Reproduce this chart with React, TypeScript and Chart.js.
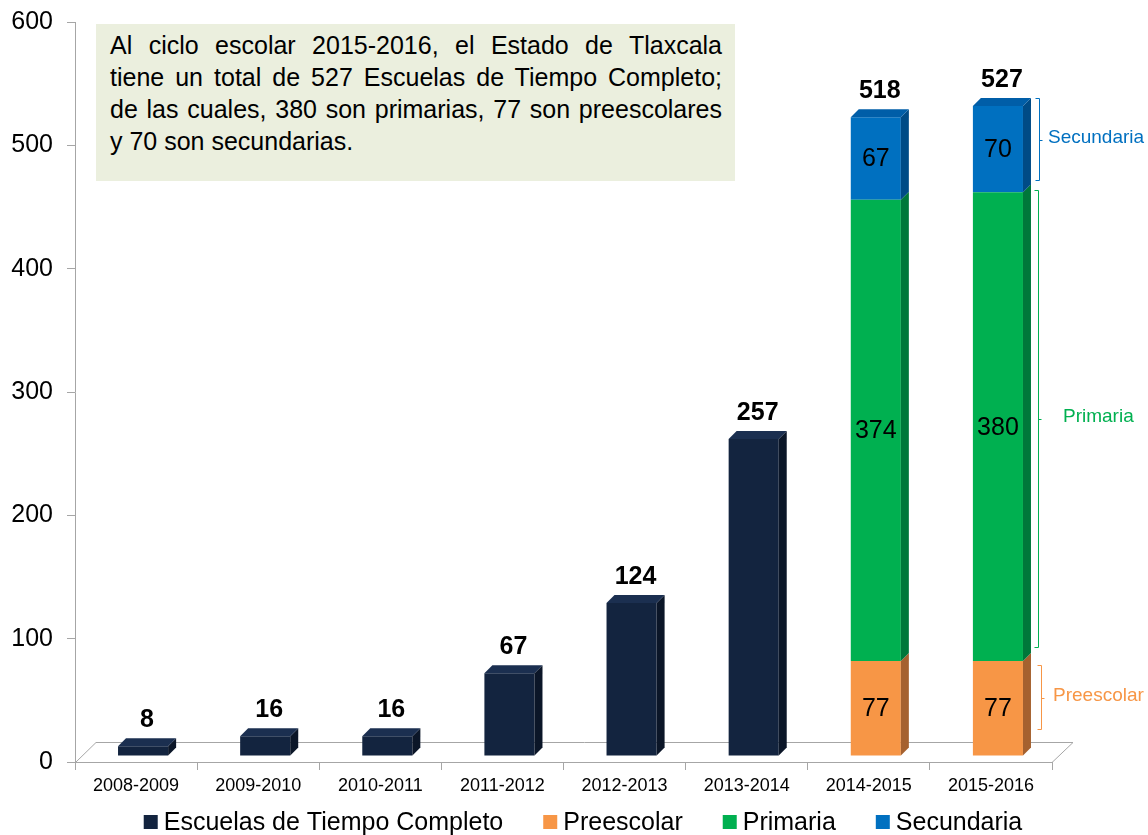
import React, { useEffect, useRef } from "react";
import { Chart, registerables } from "chart.js";

Chart.register(...registerables);

// ---------- data ----------
const categories = [
  "2008-2009", "2009-2010", "2010-2011", "2011-2012",
  "2012-2013", "2013-2014", "2014-2015", "2015-2016",
];
const escuelasTiempoCompleto = [8, 16, 16, 67, 124, 257, null, null];
const preescolar = [null, null, null, null, null, null, 77, 77];
const primaria = [null, null, null, null, null, null, 374, 380];
const secundaria = [null, null, null, null, null, null, 67, 70];
const seriesNames = ["Escuelas de Tiempo Completo", "Preescolar", "Primaria", "Secundaria"];
const yTickValues = [0, 100, 200, 300, 400, 500, 600];
// right-hand brackets (value ranges on the y axis)
const bracketNames = ["Preescolar", "Primaria", "Secundaria"];
const bracketSpans = [[27, 79], [93, 464], [472, 538]];
const noteLines = [
  "Al ciclo escolar 2015-2016, el Estado de Tlaxcala",
  "tiene un total de 527 Escuelas de Tiempo Completo;",
  "de las cuales, 380 son primarias, 77 son preescolares",
  "y 70 son secundarias.",
];

// ---------- styles ----------
const FONT = '"Liberation Sans", Arial, Helvetica, sans-serif';
const frontColors = ["#13243F", "#F79646", "#00B050", "#0070C0"];
const sideColors = ["#0B1628", "#A5612F", "#00773A", "#004B86"];
const topColors = ["#1B2F50", "#F9A565", "#00C05A", "#005EA8"];
const bracketColors = ["#F79646", "#00B050", "#0070C0"];
const bracketTextX = [1053, 1063, 1048];
const bracketLineX = [1041, 1038, 1039];
const AXIS_GRAY = "#A6A6A6";
const DX = 8, DY = 8;            // bar depth
const SHIFT_X = 7, SHIFT_Y = -6; // bars sit inside the floor depth

const threeD = {
  id: "threeD",
  beforeDatasetsDraw(chart: any) {
    const { ctx, chartArea } = chart;
    const l = chartArea.left, r = chartArea.right, b = chartArea.bottom;
    ctx.save();
    ctx.strokeStyle = AXIS_GRAY;
    ctx.lineWidth = 1;
    ctx.beginPath();
    ctx.moveTo(l + 0.5, b + 0.5);
    ctx.lineTo(l + 21, b - 19.5);
    ctx.lineTo(r + 21, b - 19.5);
    ctx.lineTo(r, b + 0.5);
    ctx.stroke();
    ctx.restore();
    ctx.save();
    ctx.translate(SHIFT_X, SHIFT_Y);
  },
  afterDatasetsDraw(chart: any) {
    const ctx = chart.ctx;
    const n = chart.data.labels.length;
    const poly = (pts: number[][], color: string) => {
      ctx.fillStyle = color;
      ctx.beginPath();
      ctx.moveTo(pts[0][0], pts[0][1]);
      for (let k = 1; k < pts.length; k++) ctx.lineTo(pts[k][0], pts[k][1]);
      ctx.closePath();
      ctx.fill();
    };
    for (let i = 0; i < n; i++) {
      let topInfo: any = null;
      let total = 0;
      chart.data.datasets.forEach((ds: any, di: number) => {
        const v = ds.data[i];
        if (v == null) return;
        total += v;
        const el = chart.getDatasetMeta(di).data[i];
        const p = el.getProps(["x", "y", "base", "width"], true);
        const right = p.x + p.width / 2;
        poly([[right, p.base], [right + DX, p.base - DY], [right + DX, p.y - DY], [right, p.y]], sideColors[di]);
        topInfo = { ...p, di };
        if (di > 0) {
          ctx.fillStyle = "#000";
          ctx.font = `25px ${FONT}`;
          ctx.textAlign = "center";
          ctx.textBaseline = "middle";
          ctx.fillText(String(v), p.x, (p.y + p.base) / 2 + 1);
        }
      });
      if (topInfo) {
        const l = topInfo.x - topInfo.width / 2, r = topInfo.x + topInfo.width / 2, y = topInfo.y;
        poly([[l, y], [l + DX, y - DY], [r + DX, y - DY], [r, y]], topColors[topInfo.di]);
        ctx.fillStyle = "#000";
        ctx.font = `bold 25px ${FONT}`;
        ctx.textAlign = "center";
        ctx.textBaseline = "middle";
        ctx.fillText(String(total), topInfo.x + 4, y - 26);
      }
    }
    ctx.restore();
  },
  afterDraw(chart: any) {
    const { ctx, scales } = chart;
    const ys = scales.y;
    // brackets
    bracketSpans.forEach((span, k) => {
      const top = Math.round(ys.getPixelForValue(span[1])) + 0.5;
      const bot = Math.round(ys.getPixelForValue(span[0])) + 0.5;
      const x = bracketLineX[k] + 0.5;
      const mid = Math.round((top + bot) / 2) + 0.5;
      ctx.save();
      ctx.strokeStyle = bracketColors[k];
      ctx.lineWidth = 1;
      ctx.beginPath();
      ctx.moveTo(x - 4, top);
      ctx.lineTo(x, top);
      ctx.lineTo(x, bot);
      ctx.lineTo(x - 4, bot);
      ctx.moveTo(x, mid);
      ctx.lineTo(x + 3, mid);
      ctx.stroke();
      ctx.fillStyle = bracketColors[k];
      ctx.font = `19px ${FONT}`;
      ctx.textAlign = "left";
      ctx.textBaseline = "middle";
      ctx.fillText(bracketNames[k], bracketTextX[k], mid - 3);
      ctx.restore();
    });
    // legend
    ctx.save();
    ctx.font = `25px ${FONT}`;
    const box = 14, gapText = 6, gapItem = 40;
    const widths = seriesNames.map((s) => ctx.measureText(s).width);
    const total = widths.reduce((a, w) => a + box + gapText + w, 0) + gapItem * (seriesNames.length - 1);
    let x = 583 - total / 2;
    const cy = 822;
    seriesNames.forEach((s, k) => {
      ctx.fillStyle = frontColors[k];
      ctx.fillRect(x, cy - 7, box, box);
      ctx.fillStyle = "#000";
      ctx.textAlign = "left";
      ctx.textBaseline = "middle";
      ctx.fillText(s, x + box + gapText, cy + 1);
      x += box + gapText + widths[k] + gapItem;
    });
    ctx.restore();
  },
};

export default function App() {
  const ref = useRef<HTMLCanvasElement>(null);
  useEffect(() => {
    const seriesData = [escuelasTiempoCompleto, preescolar, primaria, secundaria];
    const chart = new Chart(ref.current as HTMLCanvasElement, {
      type: "bar",
      data: {
        labels: categories,
        datasets: seriesData.map((d, k) => ({
          label: seriesNames[k],
          data: d,
          backgroundColor: frontColors[k],
          borderWidth: 0,
          barPercentage: 0.41,
          categoryPercentage: 1,
          stack: "s",
          clip: false,
        })) as any,
      },
      options: {
        animation: false,
        responsive: true,
        maintainAspectRatio: false,
        layout: { padding: { top: 22, right: 96, bottom: 38, left: 0 } },
        plugins: { legend: { display: false }, tooltip: { enabled: false } },
        scales: {
          x: {
            stacked: true,
            grid: { display: true, drawOnChartArea: false, drawTicks: true, tickLength: 8, color: AXIS_GRAY, offset: true },
            border: { display: true, color: AXIS_GRAY },
            ticks: { color: "#000", font: { family: FONT, size: 18 }, padding: 5, maxRotation: 0, autoSkip: false },
            afterFit: (s: any) => { s.height = 35; s.paddingLeft = 0; s.paddingRight = 0; },
          },
          y: {
            stacked: true,
            min: 0,
            max: 600,
            afterBuildTicks: (s: any) => { s.ticks = yTickValues.map((v) => ({ value: v })); },
            grid: { display: true, drawOnChartArea: false, drawTicks: true, tickLength: 8, color: AXIS_GRAY },
            border: { display: true, color: AXIS_GRAY },
            ticks: { color: "#000", font: { family: FONT, size: 25 }, padding: 14 },
            afterFit: (s: any) => { s.width = 75; s.paddingTop = 0; s.paddingBottom = 0; },
          },
        },
      },
      plugins: [threeD],
    });
    return () => chart.destroy();
  }, []);

  return (
    <div style={{ position: "fixed", left: 0, top: 0, width: 1148, height: 835, background: "#fff" }}>
      <canvas ref={ref} />
      <div
        style={{
          position: "absolute", left: 96, top: 24, width: 639, height: 157,
          background: "#EBEFDE", boxSizing: "border-box", padding: "5px 13px 0 14px",
          fontFamily: FONT, fontSize: 25, lineHeight: "32px", color: "#000",
        }}
      >
        {noteLines.map((t, i) => (
          <div key={i} style={{ textAlign: "justify", textAlignLast: i < noteLines.length - 1 ? "justify" : "left" } as any}>
            {t}
          </div>
        ))}
      </div>
    </div>
  );
}
